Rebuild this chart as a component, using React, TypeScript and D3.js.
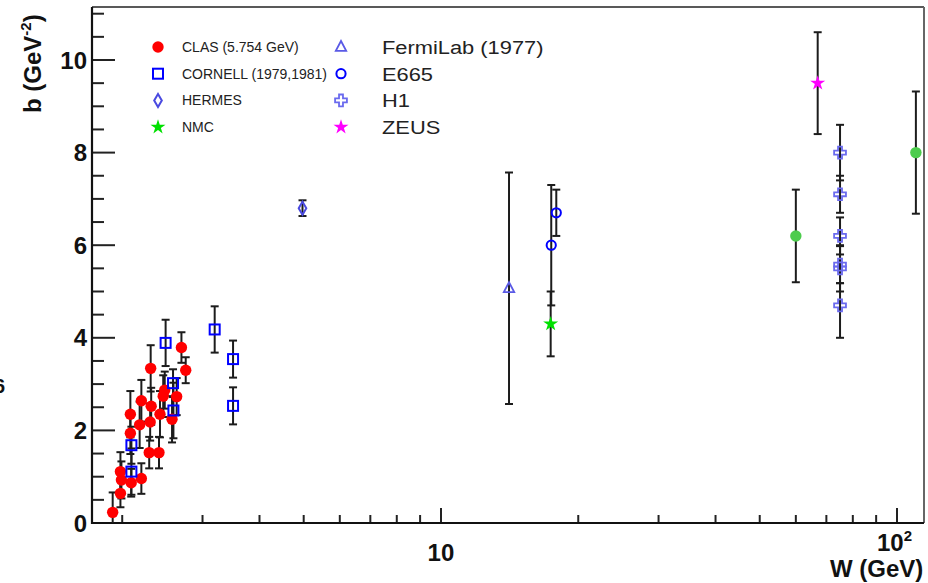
import React from "react";
import * as d3 from "d3";

const WIDTH = 928;
const HEIGHT = 583;
const PLOT = { left: 92, right: 924, top: 7, bottom: 523 };

// CLAS (5.754 GeV)
const clasW = [1.906, 1.982, 1.992, 1.982, 2.093, 2.084, 2.084, 2.203, 2.184, 2.203, 2.309, 2.315, 2.303, 2.292, 2.408, 2.42, 2.479, 2.46, 2.572, 2.633, 2.697, 2.756];
const clasB = [0.23, 0.64, 0.93, 1.11, 0.87, 1.94, 2.35, 0.96, 2.12, 2.64, 3.34, 2.52, 2.18, 1.52, 1.52, 2.35, 2.87, 2.74, 2.24, 2.73, 3.79, 3.3];
const clasErr = [0.43, 0.3, 0.4, 0.42, 0.3, 0.45, 0.5, 0.33, 0.5, 0.45, 0.5, 0.4, 0.4, 0.34, 0.34, 0.5, 0.4, 0.45, 0.5, 0.4, 0.33, 0.28];

// CORNELL (1979,1981)
const cornellW = [2.095, 2.095, 2.49, 2.585, 2.59, 3.19, 3.5, 3.5];
const cornellB = [1.11, 1.68, 3.89, 3.02, 2.43, 4.18, 3.54, 2.53];
const cornellErr = [0.5, 0.4, 0.5, 0.3, 0.6, 0.5, 0.4, 0.4];

// HERMES
const hermesW = [4.97];
const hermesB = [6.8];
const hermesErr = [0.17];

// NMC
const nmcW = [17.4];
const nmcB = [4.3];
const nmcErr = [0.7];

// FermiLab (1977)
const fermiW = [14.1];
const fermiB = [5.07];
const fermiErr = [2.5];

// E665
const e665W = [17.45, 17.9];
const e665B = [6.0, 6.7];
const e665Err = [1.3, 0.5];

// H1
const h1W = [75, 75, 75, 75, 75, 75];
const h1B = [8.0, 7.1, 6.2, 5.58, 5.5, 4.7];
const h1ErrHi = [0.6, 0.4, 0.4, 0.4, 0.5, 0.48];
const h1ErrLo = [0.6, 0.4, 0.4, 0.4, 0.5, 0.7];

// ZEUS
const zeusW = [67];
const zeusB = [9.5];
const zeusErr = [1.1];

// additional high-W points
const extraW = [60, 110];
const extraB = [6.2, 8.0];
const extraErr = [1.0, 1.32];

const xMajorTicks = [10, 100];
const xMinorTicks = [2, 3, 4, 5, 6, 7, 8, 9, 20, 30, 40, 50, 60, 70, 80, 90];
const yLabelTicks = [0, 2, 4, 6, 8, 10];

type Shape = "circle" | "square" | "diamond" | "star" | "triangle" | "ocircle" | "cross";

interface Series {
  name: string;
  shape: Shape;
  color: string;
  w: number[];
  b: number[];
  hi: number[];
  lo: number[];
}

const series: Series[] = [
  { name: "FermiLab (1977)", shape: "triangle", color: "#5a5ae6", w: fermiW, b: fermiB, hi: fermiErr, lo: fermiErr },
  { name: "HERMES", shape: "diamond", color: "#4a4ae0", w: hermesW, b: hermesB, hi: hermesErr, lo: hermesErr },
  { name: "extra", shape: "circle", color: "#4ccc4c", w: extraW, b: extraB, hi: extraErr, lo: extraErr },
  { name: "ZEUS", shape: "star", color: "#ff00ff", w: zeusW, b: zeusB, hi: zeusErr, lo: zeusErr },
  { name: "H1", shape: "cross", color: "#6a6aee", w: h1W, b: h1B, hi: h1ErrHi, lo: h1ErrLo },
  { name: "NMC", shape: "star", color: "#00e000", w: nmcW, b: nmcB, hi: nmcErr, lo: nmcErr },
  { name: "E665", shape: "ocircle", color: "#0000ff", w: e665W, b: e665B, hi: e665Err, lo: e665Err },
  { name: "CLAS (5.754 GeV)", shape: "circle", color: "#ff0000", w: clasW, b: clasB, hi: clasErr, lo: clasErr },
  { name: "CORNELL (1979,1981)", shape: "square", color: "#0000ff", w: cornellW, b: cornellB, hi: cornellErr, lo: cornellErr },
];

const legendLeft: [string, Shape, string][] = [
  ["CLAS (5.754 GeV)", "circle", "#ff0000"],
  ["CORNELL (1979,1981)", "square", "#0000ff"],
  ["HERMES", "diamond", "#4a4ae0"],
  ["NMC", "star", "#00e000"],
];
const legendRight: [string, Shape, string][] = [
  ["FermiLab (1977)", "triangle", "#5a5ae6"],
  ["E665", "ocircle", "#0000ff"],
  ["H1", "cross", "#6a6aee"],
  ["ZEUS", "star", "#ff00ff"],
];

const x = d3.scaleLog().domain([1.717, 114.6]).range([PLOT.left, PLOT.right]);
const y = d3.scaleLinear().domain([0, (PLOT.bottom - PLOT.top) / 46.3]).range([PLOT.bottom, PLOT.top]);

const starPath = d3.symbol().type(d3.symbolStar).size(70)() as string;
const crossPath = d3.symbol().type(d3.symbolCross).size(78)() as string;

function Marker({ shape, color, cx, cy }: { shape: Shape; color: string; cx: number; cy: number }) {
  const t = `translate(${cx},${cy})`;
  switch (shape) {
    case "circle":
      return <circle cx={cx} cy={cy} r={5.7} fill={color} />;
    case "ocircle":
      return <circle cx={cx} cy={cy} r={4.6} fill="none" stroke={color} strokeWidth={2} />;
    case "square":
      return <rect x={cx - 5} y={cy - 5} width={10} height={10} fill="#fff" fillOpacity={0} stroke={color} strokeWidth={2} />;
    case "diamond":
      return <path transform={t} d="M0,-6.5L3.8,0L0,6.5L-3.8,0Z" fill="none" stroke={color} strokeWidth={2} />;
    case "triangle":
      return <path transform={t} d="M0,-6L5.2,3.8L-5.2,3.8Z" fill="none" stroke={color} strokeWidth={1.8} />;
    case "star":
      return <path transform={t} d={starPath} fill={color} />;
    case "cross":
      return <path transform={t} d={crossPath} fill="none" stroke={color} strokeWidth={1.8} />;
  }
}

export default function App() {
  const font = "'Liberation Sans', Arial, Helvetica, sans-serif";
  return (
    <svg
      width={WIDTH}
      height={HEIGHT}
      style={{ position: "absolute", left: 0, top: 0, background: "#fff" }}
      fontFamily={font}
    >
      <defs>
        <clipPath id="plotClip">
          <rect x={PLOT.left} y={PLOT.top} width={PLOT.right - PLOT.left} height={PLOT.bottom - PLOT.top} />
        </clipPath>
      </defs>
      <rect width={WIDTH} height={HEIGHT} fill="#fff" />

      {/* frame */}
      <line x1={PLOT.left} x2={PLOT.right} y1={PLOT.top} y2={PLOT.top} stroke="#222" strokeWidth={1.5} />
      <line x1={PLOT.right} x2={PLOT.right} y1={PLOT.top} y2={PLOT.bottom} stroke="#666" strokeWidth={2} />

      {/* y axis */}
      {d3.range(0, 11.01, 0.5).map((v) => {
        const major = Math.abs(v % 2) < 1e-6;
        return (
          <line key={`yt${v}`} x1={PLOT.left} x2={PLOT.left + (major ? 23 : 12)} y1={y(v)} y2={y(v)} stroke="#222" strokeWidth={2} />
        );
      })}
      {yLabelTicks.map((v) => (
        <text key={`yl${v}`} x={87} y={y(v)} dy="0.36em" textAnchor="end" fontSize={24} fontWeight="bold" fill="#111">
          {v}
        </text>
      ))}

      {/* x axis */}
      {xMinorTicks.map((v) => (
        <line key={`xm${v}`} x1={x(v)} x2={x(v)} y1={PLOT.bottom} y2={PLOT.bottom - 8} stroke="#222" strokeWidth={2} />
      ))}
      {xMajorTicks.map((v) => (
        <line key={`xM${v}`} x1={x(v)} x2={x(v)} y1={PLOT.bottom} y2={PLOT.bottom - 15} stroke="#222" strokeWidth={2} />
      ))}
      <line x1={PLOT.left} x2={PLOT.left} y1={PLOT.top} y2={PLOT.bottom + 1} stroke="#111" strokeWidth={2.2} />
      <line x1={PLOT.left - 1} x2={PLOT.right} y1={PLOT.bottom} y2={PLOT.bottom} stroke="#111" strokeWidth={2.2} />

      <text x={x(10)} y={561} textAnchor="middle" fontSize={24} fontWeight="bold" fill="#111">10</text>
      <text x={877} y={551} fontSize={24} fontWeight="bold" fill="#111">
        10<tspan fontSize={15} dy={-10}>2</tspan>
      </text>

      {/* axis titles */}
      <text x={830} y={577} fontSize={24} fontWeight="bold" fill="#111">W (GeV)</text>
      <text transform="translate(41,113) rotate(-90)" fontSize={24} fontWeight="bold" fill="#111">
        b (GeV<tspan fontSize={15} dy={-10}>-2</tspan><tspan dy={10}>)</tspan>
      </text>
      <text x={-6} y={393} fontSize={20} fontWeight="bold" fill="#111">6</text>

      {/* error bars */}
      <g clipPath="url(#plotClip)" stroke="#1c1c1c" strokeWidth={2}>
        {series.map((s) =>
          s.w.map((w, i) => {
            const cx = x(w);
            const yTop = y(s.b[i] + s.hi[i]);
            const yBot = y(s.b[i] - s.lo[i]);
            return (
              <g key={`${s.name}-e${i}`}>
                <line x1={cx} x2={cx} y1={yTop} y2={yBot} />
                <line x1={cx - 4} x2={cx + 4} y1={yTop} y2={yTop} />
                <line x1={cx - 4} x2={cx + 4} y1={yBot} y2={yBot} />
              </g>
            );
          })
        )}
      </g>

      {/* markers */}
      <g clipPath="url(#plotClip)">
        {series.map((s) =>
          s.w.map((w, i) => (
            <Marker key={`${s.name}-m${i}`} shape={s.shape} color={s.color} cx={x(w)} cy={y(s.b[i])} />
          ))
        )}
      </g>

      {/* legend */}
      {legendLeft.map(([label, shape, color], i) => {
        const ly = 47 + i * 26.7;
        return (
          <g key={`ll${label}`}>
            <Marker shape={shape} color={color} cx={158} cy={ly} />
            <text x={182} y={ly} dy="0.36em" fontSize={14} fill="#222">{label}</text>
          </g>
        );
      })}
      {legendRight.map(([label, shape, color], i) => {
        const ly = 47 + i * 26.7;
        return (
          <g key={`lr${label}`}>
            <Marker shape={shape} color={color} cx={341} cy={ly} />
            <text transform={`translate(382,${ly}) scale(1.15,1)`} dy="0.36em" fontSize={19} fill="#222">{label}</text>
          </g>
        );
      })}
    </svg>
  );
}
